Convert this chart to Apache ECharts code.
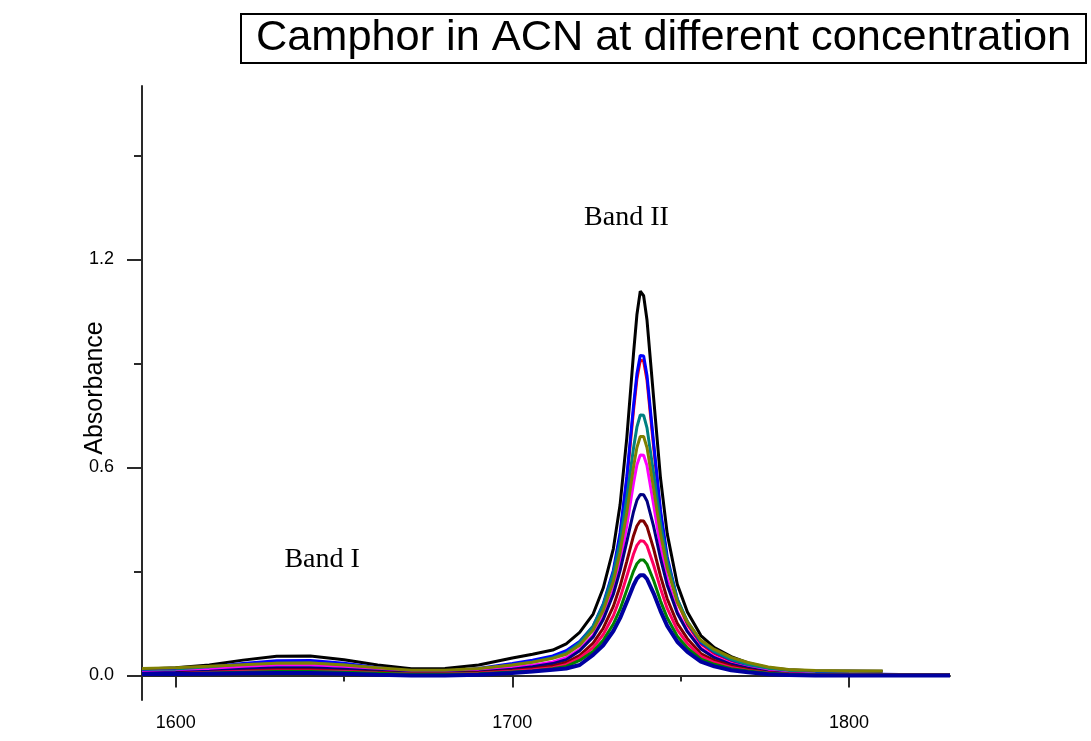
<!DOCTYPE html>
<html>
<head>
<meta charset="utf-8">
<script src="https://cdn.jsdelivr.net/npm/echarts@6/dist/echarts.min.js"></script>
<style>
html,body{margin:0;padding:0;background:#fff;}
#chart{width:1091px;height:741px;}
</style>
</head>
<body>
<div id="chart"></div>
<script>
// Wavenumber sample positions (cm-1)
const wavenumbers = [1590,1600,1610,1620,1630,1640,1650,1660,1670,1680,1690,1700,1706,1712,1716,1720,1724,1727,1730,1732,1734,1736,1737,1738,1739,1740,1742,1744,1746,1749,1752,1756,1760,1765,1770,1776,1782,1790,1800,1810,1820,1830];

// Absorbance values (one array per concentration)
const sBlack   = [.018,.022,.030,.044,.055,.056,.045,.030,.019,.020,.030,.050,.061,.073,.091,.124,.177,.252,.365,.492,.685,.929,1.040,1.108,1.095,1.025,.797,.570,.409,.263,.183,.115,.080,.054,.036,.022,.016,.013,.013,.012];
const sRed     = [.010,.013,.020,.028,.035,.036,.030,.020,.012,.011,.018,.030,.040,.052,.066,.092,.135,.198,.294,.401,.562,.765,.855,.909,.907,.852,.656,.467,.334,.213,.147,.091,.063,.042,.027,.016,.009,.005,.003,.002,.002,.002];
const sBlue    = [.012,.016,.024,.034,.042,.043,.035,.022,.012,.012,.020,.034,.044,.056,.071,.098,.142,.206,.303,.411,.573,.778,.869,.923,.921,.865,.668,.477,.342,.219,.152,.095,.067,.045,.030,.019,.012,.006,.004,.003,.002,.002];
const sTeal    = [.010,.013,.020,.028,.035,.036,.030,.020,.012,.012,.018,.030,.039,.051,.065,.094,.142,.203,.294,.386,.512,.656,.716,.751,.750,.714,.580,.440,.330,.220,.156,.098,.069,.046,.031,.018,.011,.005,.003,.002,.002,.002];
const sMagenta = [.008,.010,.016,.024,.030,.030,.025,.016,.008,.008,.012,.022,.029,.039,.051,.075,.116,.168,.246,.325,.432,.555,.607,.636,.635,.605,.491,.371,.278,.184,.129,.079,.054,.034,.022,.012,.006,.003,.002,.002,.002,.002];
const sOlive   = [.020,.022,.026,.031,.035,.036,.030,.022,.015,.015,.020,.030,.038,.049,.061,.087,.131,.187,.271,.355,.470,.602,.657,.689,.689,.657,.537,.409,.310,.211,.154,.101,.075,.052,.037,.024,.017,.014,.013,.013];
const sNavy    = [.006,.008,.012,.018,.022,.022,.018,.012,.006,.006,.010,.018,.025,.034,.045,.071,.111,.161,.234,.302,.386,.472,.505,.522,.521,.503,.428,.338,.261,.179,.126,.076,.051,.032,.021,.010,.005,.002,.002,.002,.002,.002];
const sMaroon  = [.005,.006,.009,.013,.016,.016,.013,.009,.005,.005,.008,.014,.019,.027,.037,.058,.093,.136,.199,.257,.329,.403,.431,.446,.445,.429,.364,.287,.221,.150,.106,.063,.043,.027,.017,.008,.004,.002,.002,.002,.002,.002];
const sCrimson = [.004,.005,.008,.011,.013,.013,.011,.007,.004,.004,.006,.012,.016,.022,.031,.050,.080,.118,.172,.223,.286,.350,.375,.388,.387,.374,.317,.251,.193,.131,.092,.055,.037,.023,.014,.007,.004,.002,.002,.002,.002,.002];
const sGreen   = [.004,.005,.007,.009,.011,.011,.009,.006,.003,.003,.005,.010,.013,.019,.026,.043,.069,.101,.148,.191,.246,.301,.322,.333,.333,.321,.273,.215,.166,.113,.079,.047,.032,.019,.013,.006,.003,.001,.001,.001,.001,.001];
const sDarkBlue= [.004,.004,.005,.006,.007,.007,.005,.002,.000,.000,.002,.007,.011,.016,.020,.030,.059,.087,.128,.165,.212,.260,.279,.289,.289,.278,.236,.186,.143,.097,.068,.040,.026,.015,.009,.003,.001,.000,.000,.000,.000,.000];

const seriesNames  = ['black','red','blue','teal','magenta','olive','navy','maroon','crimson','green','darkblue'];
const seriesValues = [sBlack,sRed,sBlue,sTeal,sMagenta,sOlive,sNavy,sMaroon,sCrimson,sGreen,sDarkBlue];

const yLabelTicks = [0, 0.6, 1.2];
const yMinorTicks = [0.3, 0.9, 1.5];
const xLabelTicks = [1600, 1700, 1800];
const xMinorTicks = [1650, 1750];

const annotationTexts = ['Band I', 'Band II'];
const annotationX = [1643.5, 1733.9];
const annotationY = [0.335, 1.321];

const colors = {
  black:'#000000', red:'#ff0000', blue:'#0000ff', teal:'#008080', magenta:'#ff00ff',
  olive:'#808000', navy:'#000080', maroon:'#800000', crimson:'#ff0060', green:'#008000', darkblue:'#0000a0'
};

const chart = echarts.init(document.getElementById('chart'), null, {renderer:'canvas'});

const lineSeries = seriesNames.map((n, k) => ({
  name: n,
  type: 'line',
  xAxisIndex: 0, yAxisIndex: 0,
  showSymbol: false,
  symbol: 'none',
  smooth: false,
  silent: true,
  animation: false,
  lineStyle: {color: colors[n], width: n === 'darkblue' ? 4 : 3},
  itemStyle: {color: colors[n]},
  data: seriesValues[k].map((v, i) => [wavenumbers[i], v])
}));

const annSeries = {
  type: 'scatter',
  xAxisIndex: 0, yAxisIndex: 0,
  symbolSize: 1,
  itemStyle: {color: 'rgba(0,0,0,0)'},
  silent: true,
  animation: false,
  label: {
    show: true, position: 'inside', opacity: 1,
    formatter: p => p.data[2],
    fontFamily: 'Liberation Serif', fontSize: 28, color: '#000000'
  },
  data: annotationTexts.map((t, i) => [annotationX[i], annotationY[i], t])
};

const axisColor = '#2a2a2a';
const tickFont = {fontFamily: 'Liberation Sans', fontSize: 18, color: '#000'};

chart.setOption({
  backgroundColor: '#ffffff',
  animation: false,
  title: {
    text: 'Camphor in ACN at different concentration',
    left: 241, top: 14,
    padding: [3, 15, 3, 15],
    borderColor: '#000', borderWidth: 2,
    textStyle: {fontFamily: 'Liberation Sans', fontSize: 43.3, fontWeight: 'normal', color: '#000'}
  },
  grid: {left: 142, right: 141, top: 86, bottom: 41, containLabel: false},
  xAxis: [
    {
      type: 'value', min: 1590, max: 1830, position: 'bottom',
      axisLine: {show: true, lineStyle: {color: axisColor, width: 2}},
      axisTick: {show: true, customValues: xLabelTicks, length: 12, lineStyle: {color: axisColor, width: 2}},
      axisLabel: {customValues: xLabelTicks, margin: 14, formatter: v => String(v), ...tickFont},
      splitLine: {show: false}
    },
    {
      type: 'value', min: 1590, max: 1830, position: 'bottom', offset: 0,
      axisLine: {show: false},
      axisTick: {show: true, customValues: xMinorTicks, length: 6, lineStyle: {color: axisColor, width: 2}},
      axisLabel: {show: false},
      splitLine: {show: false}
    }
  ],
  yAxis: [
    {
      type: 'value', min: -0.071, max: 1.7, position: 'left',
      name: 'Absorbance', nameLocation: 'middle', nameRotate: 90, nameGap: 34,
      nameMoveOverlap: false,
      nameTextStyle: {fontFamily: 'Liberation Sans', fontSize: 25, color: '#000', padding: [0, 0, 0, 10]},
      axisLine: {show: true, lineStyle: {color: axisColor, width: 2}},
      axisTick: {show: true, customValues: yLabelTicks, length: 15, lineStyle: {color: axisColor, width: 2}},
      axisLabel: {customValues: yLabelTicks, formatter: v => Number(v).toFixed(1), margin: 28, ...tickFont},
      splitLine: {show: false}
    },
    {
      type: 'value', min: -0.071, max: 1.7, position: 'left', offset: 0,
      axisLine: {show: false},
      axisTick: {show: true, customValues: yMinorTicks, length: 8, lineStyle: {color: axisColor, width: 2}},
      axisLabel: {show: false},
      splitLine: {show: false}
    }
  ],
  series: [...lineSeries, annSeries]
});
</script>
</body>
</html>
